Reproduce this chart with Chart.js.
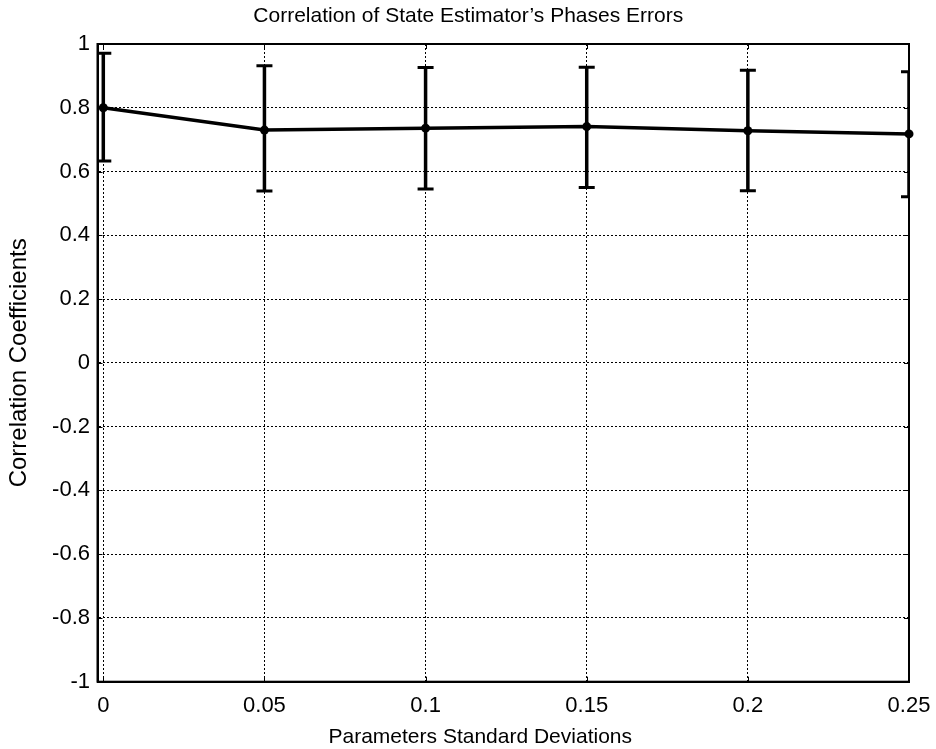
<!DOCTYPE html>
<html>
<head>
<meta charset="utf-8">
<script src="https://cdn.jsdelivr.net/npm/chart.js@4.4.0/dist/chart.umd.min.js"></script>
<style>
html,body{margin:0;padding:0;background:#fff;}
#wrap{width:936px;height:749px;}
</style>
</head>
<body>
<div id="wrap"><canvas id="c" width="936" height="749"></canvas></div>
<script>
const chartTitle = "Correlation of State Estimator\u2019s Phases Errors";
const xAxisTitle = "Parameters Standard Deviations";
const yAxisTitle = "Correlation Coefficients";
const xValues = [0, 0.05, 0.1, 0.15, 0.2, 0.25];
const meanValues = [0.800, 0.730, 0.736, 0.741, 0.728, 0.718];
const upperValues = [0.971, 0.932, 0.926, 0.927, 0.918, 0.913];
const lowerValues = [0.633, 0.539, 0.545, 0.550, 0.540, 0.521];
const xTickValues = [0, 0.05, 0.1, 0.15, 0.2, 0.25];
const xTickLabels = ["0", "0.05", "0.1", "0.15", "0.2", "0.25"];
const yTickValues = [-1, -0.8, -0.6, -0.4, -0.2, 0, 0.2, 0.4, 0.6, 0.8, 1];
const yTickLabels = ["-1", "-0.8", "-0.6", "-0.4", "-0.2", "0", "0.2", "0.4", "0.6", "0.8", "1"];

const FONT = "'Liberation Sans', Arial, sans-serif";

const points = xValues.map((x, i) => ({x: x, y: meanValues[i]}));

const errorBarPlugin = {
  id: 'errorBars',
  afterDatasetsDraw(chart) {
    const ctx = chart.ctx;
    const xs = chart.scales.x, ys = chart.scales.y;
    const a = chart.chartArea;
    ctx.save();
    ctx.beginPath();
    ctx.rect(a.left, a.top, a.right - a.left, a.bottom - a.top);
    ctx.clip();
    ctx.strokeStyle = '#000';
    ctx.lineCap = 'butt';
    const half = 8;
    xValues.forEach((xv, i) => {
      const px = xs.getPixelForValue(xv);
      const pu = ys.getPixelForValue(upperValues[i]);
      const pl = ys.getPixelForValue(lowerValues[i]);
      ctx.lineWidth = 3.5;
      ctx.beginPath();
      ctx.moveTo(px, pu); ctx.lineTo(px, pl);
      ctx.stroke();
      ctx.lineWidth = 3;
      ctx.beginPath();
      ctx.moveTo(px - half, pu); ctx.lineTo(px + half, pu);
      ctx.moveTo(px - half, pl); ctx.lineTo(px + half, pl);
      ctx.stroke();
    });
    ctx.restore();
  },
  afterDraw(chart) {
    const ctx = chart.ctx;
    const xs = chart.scales.x, ys = chart.scales.y;
    const a = chart.chartArea;
    ctx.save();
    ctx.strokeStyle = '#000';
    ctx.lineWidth = 1;
    const tl = 5;
    ctx.beginPath();
    xTickValues.forEach(v => {
      const px = Math.round(xs.getPixelForValue(v)) + 0.5;
      ctx.moveTo(px, a.bottom); ctx.lineTo(px, a.bottom - tl);
      ctx.moveTo(px, a.top); ctx.lineTo(px, a.top + tl);
    });
    yTickValues.forEach(v => {
      const py = Math.round(ys.getPixelForValue(v)) + 0.5;
      ctx.moveTo(a.left, py); ctx.lineTo(a.left + tl, py);
      ctx.moveTo(a.right, py); ctx.lineTo(a.right - tl, py);
    });
    ctx.stroke();
    ctx.lineWidth = 2;
    ctx.strokeRect(a.left, a.top, a.right - a.left, a.bottom - a.top);

    // chart title and x-axis title (offset as in the original figure)
    ctx.fillStyle = '#000';
    ctx.textAlign = 'center';
    ctx.textBaseline = 'middle';
    const cx = (a.left + a.right) / 2;
    ctx.font = "21px " + FONT;
    ctx.fillText(chartTitle, cx - 35, 16.5);
    ctx.fillText(xAxisTitle, cx - 23, 737);
    ctx.restore();
  }
};

new Chart(document.getElementById('c'), {
  type: 'line',
  data: {
    datasets: [{
      data: points,
      borderColor: '#000',
      backgroundColor: '#000',
      borderWidth: 3.5,
      pointRadius: 4.5,
      pointBackgroundColor: '#000',
      pointBorderWidth: 0,
      tension: 0,
      fill: false,
      clip: false
    }]
  },
  options: {
    responsive: false,
    animation: false,
    events: [],
    layout: {padding: {left: 0, right: 27, top: 44, bottom: 0}},
    plugins: {
      legend: {display: false},
      tooltip: {enabled: false},
      title: {display: false}
    },
    scales: {
      x: {
        type: 'linear',
        min: -0.0018,
        max: 0.25,
        afterBuildTicks(scale) { scale.ticks = xTickValues.map(v => ({value: v})); },
        afterFit(scale) { scale.height = 67.3; scale.paddingRight = 0; scale.paddingLeft = 0; },
        ticks: {
          autoSkip: false, maxRotation: 0, minRotation: 0,
          color: '#000', padding: 11,
          font: {family: FONT, size: 22},
          callback: (v, i) => xTickLabels[i]
        },
        grid: {color: '#000', lineWidth: 1, drawTicks: false},
        border: {display: true, color: '#000', width: 2, dash: [2, 2]},
        title: {display: false}
      },
      y: {
        type: 'linear',
        min: -1,
        max: 1,
        afterBuildTicks(scale) { scale.ticks = yTickValues.map(v => ({value: v})); },
        afterFit(scale) { scale.width = 97.5; scale.paddingTop = 0; scale.paddingBottom = 0; },
        ticks: {
          autoSkip: false, color: '#000', padding: 7.5,
          font: {family: FONT, size: 22},
          callback: (v, i) => yTickLabels[i]
        },
        grid: {color: '#000', lineWidth: 1, drawTicks: false},
        border: {display: true, color: '#000', width: 2, dash: [2, 2]},
        title: {
          display: true, text: yAxisTitle, color: '#000',
          font: {family: FONT, size: 24, lineHeight: 1.2},
          padding: {top: 4.6, bottom: 0}
        }
      }
    }
  },
  plugins: [errorBarPlugin]
});
</script>
</body>
</html>
